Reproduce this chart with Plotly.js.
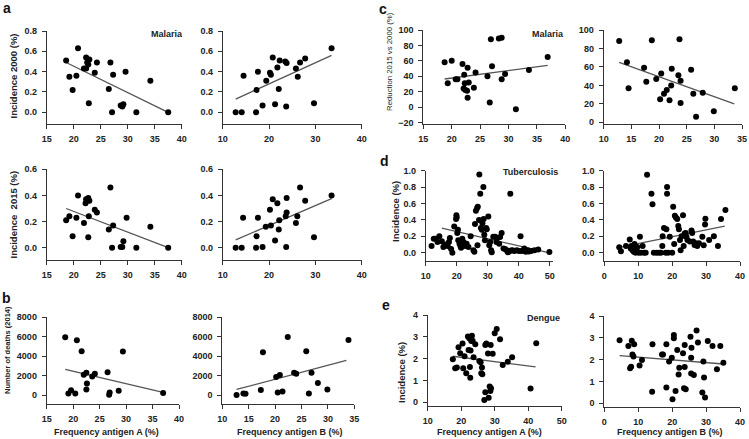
<!DOCTYPE html>
<html><head><meta charset="utf-8">
<script src="https://cdn.plot.ly/plotly-3.0.1.min.js"></script>
<style>body{margin:0;background:#fff}#chart{width:749px;height:439px}</style>
</head><body><div id="chart"></div>
<script>
// ---------- DATA ----------
// a: Malaria incidence 2000 vs antigen A / B
const mal2000A_x = [18.6,20.8,19.2,20.5,19.8,22.3,22.9,22.5,22.7,22.3,21.9,24.3,23.9,22.8,26.8,27.3,26.5,27.1,28.7,29.0,29.2,29.6,31.6,34.2,37.5];
const mal2000A_y = [0.51,0.63,0.35,0.36,0.22,0.54,0.52,0.49,0.47,0.43,0.43,0.49,0.39,0.09,0.49,0.37,0.23,0.0,0.066,0.056,0.08,0.40,0.0,0.31,0.0];
const mal2000A_trendX = [18.6,37.5], mal2000A_trendY = [0.49,0.0];

const mal2000B_x = [12.8,14.1,14.5,17.2,17.3,17.6,18.6,19.4,20.2,20.4,20.8,21.3,21.8,22.1,22.3,23.5,23.8,23.7,25.8,26.2,26.7,27.8,29.7,33.5];
const mal2000B_y = [0,0,0.36,0,0.22,0.40,0.066,0.31,0.39,0.37,0.54,0.08,0.44,0.23,0.51,0.50,0.485,0.056,0.43,0.35,0.49,0.53,0.09,0.63];
const mal2000B_trendX = [12.8,33.5], mal2000B_trendY = [0.13,0.56];

// a: Malaria incidence 2015
const mal2015A_x = [18.6,19.2,19.8,20.5,20.8,21.9,22.2,22.3,22.7,22.9,22.8,22.7,23.9,24.3,26.5,26.8,27.1,27.3,28.7,29.0,29.2,29.8,31.6,34.2,37.5];
const mal2015A_y = [0.21,0.24,0.087,0.23,0.40,0.19,0.34,0.37,0.38,0.36,0.24,0.08,0.29,0.27,0.14,0.46,0.0,0.17,0.005,0.005,0.05,0.23,0.0,0.16,0.0];
const mal2015A_trendX = [18.6,37.5], mal2015A_trendY = [0.30,0.0];

const mal2015B_x = [12.8,14.1,14.4,17.2,17.3,17.6,18.6,19.3,20.2,20.4,20.8,21.3,21.8,22.1,22.2,23.6,23.8,23.8,23.7,25.8,26.1,26.7,27.8,29.7,33.5];
const mal2015B_y = [0,0,0.23,0,0.087,0.23,0.005,0.16,0.29,0.17,0.37,0.056,0.34,0.14,0.21,0.24,0.27,0.38,0.005,0.19,0.24,0.46,0.36,0.08,0.40];
const mal2015B_trendX = [12.8,33.5], mal2015B_trendY = [0.06,0.375];

// b: Number of deaths (2014)
const deathsA_x = [18.5,20.7,19.1,19.6,20.4,21.6,22.0,22.5,22.6,22.5,23.6,24.1,26.5,26.8,26.9,28.6,29.4,37.0];
const deathsA_y = [5950,5650,170,500,170,4500,2100,2300,1200,580,1900,2200,2340,30,270,440,4470,200];
const deathsA_trendX = [18.5,37.0], deathsA_trendY = [2640,270];

const deathsB_x = [12.7,14.0,14.4,17.3,17.7,20.2,20.9,20.5,21.4,22.4,23.6,24.0,25.9,26.4,26.9,28.1,29.9,33.9];
const deathsB_y = [0,170,140,510,4400,1860,2070,270,370,5970,2300,2200,4500,170,2300,1250,580,5660];
const deathsB_trendX = [12.7,33.5], deathsB_trendY = [580,3560];

// c: Reduction 2015 vs 2000 (%)
const reductionA_x = [18.75,20.0,19.3,20.7,21.0,21.9,22.2,22.3,22.1,22.4,22.7,22.8,23.0,22.8,23.9,24.2,26.3,26.7,26.9,27.1,28.3,28.8,28.8,29.4,31.3,33.6,36.9];
const reductionA_y = [58,60,31,36,36,56,42,31,24,22,21,51,32,12,25,45,40,6,88,53,89,90,36,43,-3,48,65];
const reductionA_trendX = [18.75,36.9], reductionA_trendY = [36.4,54];

const reductionB_x = [12.8,14.2,14.5,17.3,17.7,18.7,19.5,20.2,20.4,20.9,21.4,21.9,22.2,22.3,23.5,23.7,23.9,23.9,25.8,26.2,26.7,27.9,29.9,33.7];
const reductionB_y = [88,65,37,59,44,89,47,25,53,31,35,24,40,58,51,90,45,21,57,31,6,32,12,37];
const reductionB_trendX = [12.8,33.6], reductionB_trendY = [65,20];

// d: Tuberculosis incidence (%)
const tbA_x = [11.9,12.6,13.3,13.8,14.4,15.2,15.7,16.2,17.1,17.5,17.8,18.2,18.6,19.2,19.8,19.9,20.0,20.2,20.4,20.5,20.9,21.2,21.4,21.8,22.2,22.7,23.2,23.8,24.5,25.4,25.7,25.9,26.2,26.6,26.8,26.7,27.2,27.3,27.6,27.8,28.1,28.3,28.6,28.7,28.9,29.1,29.5,29.7,30.2,30.5,30.8,31.1,31.3,31.8,32.4,32.8,33.1,33.7,34.0,34.5,35.1,35.6,36.1,36.5,36.9,37.3,37.5,38.0,38.6,39.4,40.1,40.6,41.0,41.5,41.8,42.3,42.9,43.3,44.0,45.1,46.3,49.9];
const tbA_y = [0.08,0.17,0.17,0.13,0.20,0.14,0.07,0.10,0.08,0.13,0.18,0.045,0.0,0.32,0.41,0.455,0.43,0.24,0.28,0.15,0.11,0.08,0.06,0.17,0.13,0.08,0.11,0.07,0.20,0.03,0.01,0.35,0.51,0.545,0.56,0.09,0.40,0.955,0.72,0.30,0.28,0.36,0.80,0.41,0.22,0.15,0.30,0.285,0.44,0.09,0.13,0.03,0.005,0.195,0.195,0.13,0.18,0.11,0.19,0.24,0.05,0.045,0.03,0.005,0.015,0.72,0.025,0.03,0.02,0.03,0.02,0.20,0.02,0.03,0.05,0.01,0.03,0.015,0.02,0.03,0.04,0.008];
const tbA_trendX = [15.2,49.6], tbA_trendY = [0.30,0.0];

const tbB_x = [4.4,4.9,6.4,7.5,7.8,8.0,8.3,8.5,8.7,8.9,9.2,9.5,9.7,10.1,10.5,10.8,11.3,11.7,12.2,12.6,13.9,14.2,14.6,15.4,16.1,16.7,17.1,17.2,17.6,18.1,18.3,18.5,18.5,18.8,19.3,20.0,20.3,20.6,20.8,21.1,21.5,21.8,22.0,22.3,22.5,22.8,23.2,23.4,23.7,24.0,24.2,24.5,25.2,25.7,25.9,26.2,26.6,27.0,27.4,27.9,28.9,29.3,29.7,29.8,30.9,32.3,33.5,34.4,35.7];
const tbB_y = [0.065,0.016,0.08,0.16,0.05,0.08,0.03,0.065,0.01,0.105,0,0.04,0.07,0,0.195,0,0.08,0,0,0.95,0.72,0.59,0,0,0,0,0.08,0.20,0.30,0,0.285,0.80,0.72,0,0.195,0,0.56,0.105,0.45,0.43,0.41,0.325,0.285,0.155,0.03,0.20,0.455,0.08,0.235,0.24,0.195,0.155,0.135,0.27,0.24,0.135,0.095,0.115,0.08,0.115,0.195,0.09,0.345,0.415,0.155,0.20,0.08,0.41,0.52];
const tbB_trendX = [4.4,35.5], tbB_trendY = [0.065,0.325];

// e: Dengue incidence (%)
const dengueA_x = [17.5,18.2,18.7,19.2,19.7,20.4,20.6,21.0,21.5,22.0,22.2,22.4,22.6,22.7,22.8,23.0,23.2,23.4,23.7,24.2,25.4,25.8,26.0,26.3,26.2,26.9,27.2,27.2,27.5,28.0,28.2,28.5,28.7,28.9,28.8,29.4,30.0,30.6,31.6,32.4,33.9,35.2,40.7,42.4];
const dengueA_y = [1.97,1.56,1.59,2.52,2.25,2.69,1.56,2.11,1.33,3.01,2.40,2.93,1.62,1.13,2.37,2.81,3.05,2.82,2.06,2.66,1.89,1.83,1.33,1.28,1.59,0.11,0.46,2.63,2.69,2.24,0.21,0.72,0.52,0.64,2.63,2.23,3.16,3.36,2.89,1.71,1.86,2.06,0.63,2.70];
const dengueA_trendX = [17.5,42.2], dengueA_trendY = [2.11,1.62];

const dengueB_x = [4.5,7.1,7.6,7.9,8.1,8.3,8.6,8.8,10.4,11.1,14.1,14.2,17.0,17.3,18.3,18.3,19.1,19.9,20.1,20.5,20.5,21.0,21.5,21.9,22.1,23.2,23.5,23.7,23.7,24.0,25.4,25.6,25.7,25.6,26.4,27.2,27.6,28.9,29.2,29.4,29.7,30.5,31.9,33.2,34.2,35.1];
const dengueB_y = [2.89,2.63,1.60,1.68,2.87,2.24,2.14,2.70,1.73,1.98,0.53,2.70,2.24,2.24,2.70,0.72,1.91,2.09,0.18,3.13,2.98,0.56,2.44,1.32,1.63,2.29,0.69,2.67,1.66,0.64,3.05,2.09,2.55,1.37,1.30,3.33,2.79,0.49,1.91,1.18,0.27,2.85,2.63,1.56,2.63,1.86];
const dengueB_trendX = [4.5,35.1], dengueB_trendY = [2.18,1.80];

// tick values
const ticksX_15_40 = [15,20,25,30,35,40];
const ticksX_10_40by10 = [10,20,30,40];
const ticksX_10_35 = [10,15,20,25,30,35];
const ticksX_10_50 = [10,20,30,40,50];
const ticksX_0_40 = [0,10,20,30,40];
const ticksY_0_08 = [0,0.2,0.4,0.6,0.8];
const ticksY_0_06 = [0,0.2,0.4,0.6];
const ticksY_deaths = [0,2000,4000,6000,8000];
const ticksY_red = [-20,0,20,40,60,80,100];
const ticksY_red2 = [0,20,40,60,80,100];
const ticksY_tb = [0,0.2,0.4,0.6,0.8,1.0];
const ticksY_dengue = [0,1,2,3,4];

// ---------- LAYOUT (pixel geometry) ----------
const W = 749, H = 439;
const panels = [
  {x:mal2000A_x, y:mal2000A_y, tx:mal2000A_trendX, ty:mal2000A_trendY, px:[46.7,181.7], py:[31,124], xr:[15,40], yr:[-0.115,0.8], xt:ticksX_15_40, yt:ticksY_0_08, yf:'.1f'},
  {x:mal2000B_x, y:mal2000B_y, tx:mal2000B_trendX, ty:mal2000B_trendY, px:[222.7,361.7], py:[31,124], xr:[10,40], yr:[-0.115,0.8], xt:ticksX_10_40by10, yt:ticksY_0_08, yf:'.1f'},
  {x:mal2015A_x, y:mal2015A_y, tx:mal2015A_trendX, ty:mal2015A_trendY, px:[46.7,181.7], py:[169.3,260], xr:[15,40], yr:[-0.094,0.6], xt:ticksX_15_40, yt:ticksY_0_06, yf:'.1f'},
  {x:mal2015B_x, y:mal2015B_y, tx:mal2015B_trendX, ty:mal2015B_trendY, px:[222.7,361.7], py:[169.3,260], xr:[10,40], yr:[-0.094,0.6], xt:ticksX_10_40by10, yt:ticksY_0_06, yf:'.1f'},
  {x:deathsA_x, y:deathsA_y, tx:deathsA_trendX, ty:deathsA_trendY, px:[46.7,179], py:[317.3,404.3], xr:[15,40], yr:[-950,8000], xt:ticksX_15_40, yt:ticksY_deaths, yf:'d'},
  {x:deathsB_x, y:deathsB_y, tx:deathsB_trendX, ty:deathsB_trendY, px:[222.3,354.3], py:[317.3,404.3], xr:[10,35], yr:[-950,8000], xt:ticksX_10_35, yt:ticksY_deaths, yf:'d'},
  {x:reductionA_x, y:reductionA_y, tx:reductionA_trendX, ty:reductionA_trendY, px:[423.3,565.3], py:[30,124], xr:[15,40], yr:[-22,100], xt:ticksX_15_40, yt:ticksY_red, yf:'d'},
  {x:reductionB_x, y:reductionB_y, tx:reductionB_trendX, ty:reductionB_trendY, px:[603.7,742], py:[30,124], xr:[10,35], yr:[-1.8,100], xt:ticksX_10_35, yt:ticksY_red2, yf:'d'},
  {x:tbA_x, y:tbA_y, tx:tbA_trendX, ty:tbA_trendY, px:[425.7,552.8], py:[170.7,260.7], xr:[10,51], yr:[-0.098,1.0], xt:ticksX_10_50, yt:ticksY_tb, yf:'.1f'},
  {x:tbB_x, y:tbB_y, tx:tbB_trendX, ty:tbB_trendY, px:[604.3,740], py:[170.7,260.7], xr:[0,40], yr:[-0.098,1.0], xt:ticksX_0_40, yt:ticksY_tb, yf:'.1f'},
  {x:dengueA_x, y:dengueA_y, tx:dengueA_trendX, ty:dengueA_trendY, px:[427.7,561.7], py:[315,405.7], xr:[10,50], yr:[-0.156,4], xt:ticksX_10_50, yt:ticksY_dengue, yf:'d'},
  {x:dengueB_x, y:dengueB_y, tx:dengueB_trendX, ty:dengueB_trendY, px:[604.3,740], py:[316,407], xr:[0,40], yr:[-0.17,4], xt:ticksX_0_40, yt:ticksY_dengue, yf:'d'}
];

const FONT = 'Liberation Sans, Arial, sans-serif';
const tickfont = {family:FONT, size:9, color:'#222', weight:'bold'};
const traces = [];
const layout = {
  width:W, height:H, margin:{l:0,r:0,t:0,b:0},
  paper_bgcolor:'#fff', plot_bgcolor:'rgba(0,0,0,0)', showlegend:false,
  annotations:[]
};

panels.forEach((p,i)=>{
  const n = i+1;
  const xa = 'x'+(n===1?'':n), ya = 'y'+(n===1?'':n);
  traces.push({type:'scatter', mode:'lines', x:p.tx, y:p.ty, xaxis:xa, yaxis:ya,
    line:{color:'#555', width:1.3}, hoverinfo:'skip', cliponaxis:false});
  traces.push({type:'scatter', mode:'markers', x:p.x, y:p.y, xaxis:xa, yaxis:ya,
    marker:{color:'#000', size:6}, cliponaxis:false});
  const common = {showgrid:false, zeroline:false, showline:true, linecolor:'#333', linewidth:1,
    ticks:'outside', ticklen:4, tickcolor:'#333', tickwidth:1, tickfont:tickfont, fixedrange:true};
  layout['xaxis'+(n===1?'':n)] = Object.assign({}, common, {
    domain:[p.px[0]/W, p.px[1]/W], range:p.xr, tickvals:p.xt, anchor:ya, ticklabelstandoff:2});
  layout['yaxis'+(n===1?'':n)] = Object.assign({}, common, {
    domain:[1-p.py[1]/H, 1-p.py[0]/H], range:p.yr, tickvals:p.yt, anchor:xa,
    tickformat:p.yf==='d'?'d':'.1f', ticklabelstandoff:3});
});

function ann(text, px, py, opt){
  layout.annotations.push(Object.assign({text:text, x:px/W, y:1-py/H, xref:'paper', yref:'paper',
    showarrow:false, xanchor:'center', yanchor:'middle',
    font:{family:FONT, size:10, color:'#222', weight:'bold'}}, opt||{}));
}
const letterFont = {family:FONT, size:14, color:'#111', weight:'bold'};
// panel letters
ann('a', 7, 8, {font:letterFont});
ann('b', 7, 298, {font:letterFont});
ann('c', 383, 9, {font:letterFont});
ann('d', 385, 161, {font:letterFont});
ann('e', 386, 305, {font:letterFont});
// disease labels
const labFont = {family:FONT, size:9, color:'#222', weight:'bold'};
ann('Malaria', 185, 34, {xanchor:'right', font:labFont});
ann('Malaria', 566, 34, {xanchor:'right', font:labFont});
ann('Tuberculosis', 560, 172, {xanchor:'right', font:labFont});
ann('Dengue', 562, 318, {xanchor:'right', font:labFont});
// y titles
ann('Incidence 2000 (%)', 12.5, 76, {textangle:-90, font:{family:FONT, size:9.5, color:'#222', weight:'bold'}});
ann('Incidence  2015 (%)', 12.5, 215, {textangle:-90, font:{family:FONT, size:9.5, color:'#222', weight:'bold'}});
ann('Number of deaths (2014)', 7, 350, {textangle:-90, font:{family:FONT, size:7.5, color:'#222', weight:'bold'}});
ann('Reduction 2015 vs 2000 (%)', 390, 62, {textangle:-90, font:{family:FONT, size:7.8, color:'#222'}});
ann('Incidence (%)', 396, 212, {textangle:-90, font:{family:FONT, size:9.5, color:'#222', weight:'bold'}});
ann('Incidence (%)', 401, 373, {textangle:-90, font:{family:FONT, size:9.5, color:'#222', weight:'bold'}});
// x titles
const xtFont = {family:FONT, size:9, color:'#222', weight:'bold'};
ann('Frequency antigen A (%)', 106, 432, {font:xtFont});
ann('Frequency antigen B (%)', 290, 432, {font:xtFont});
ann('Frequency antigen A (%)', 490, 432, {font:xtFont});
ann('Frequency antigen B (%)', 670, 432, {font:xtFont});

Plotly.newPlot('chart', traces, layout, {staticPlot:true, displayModeBar:false});
</script>
</body></html>
